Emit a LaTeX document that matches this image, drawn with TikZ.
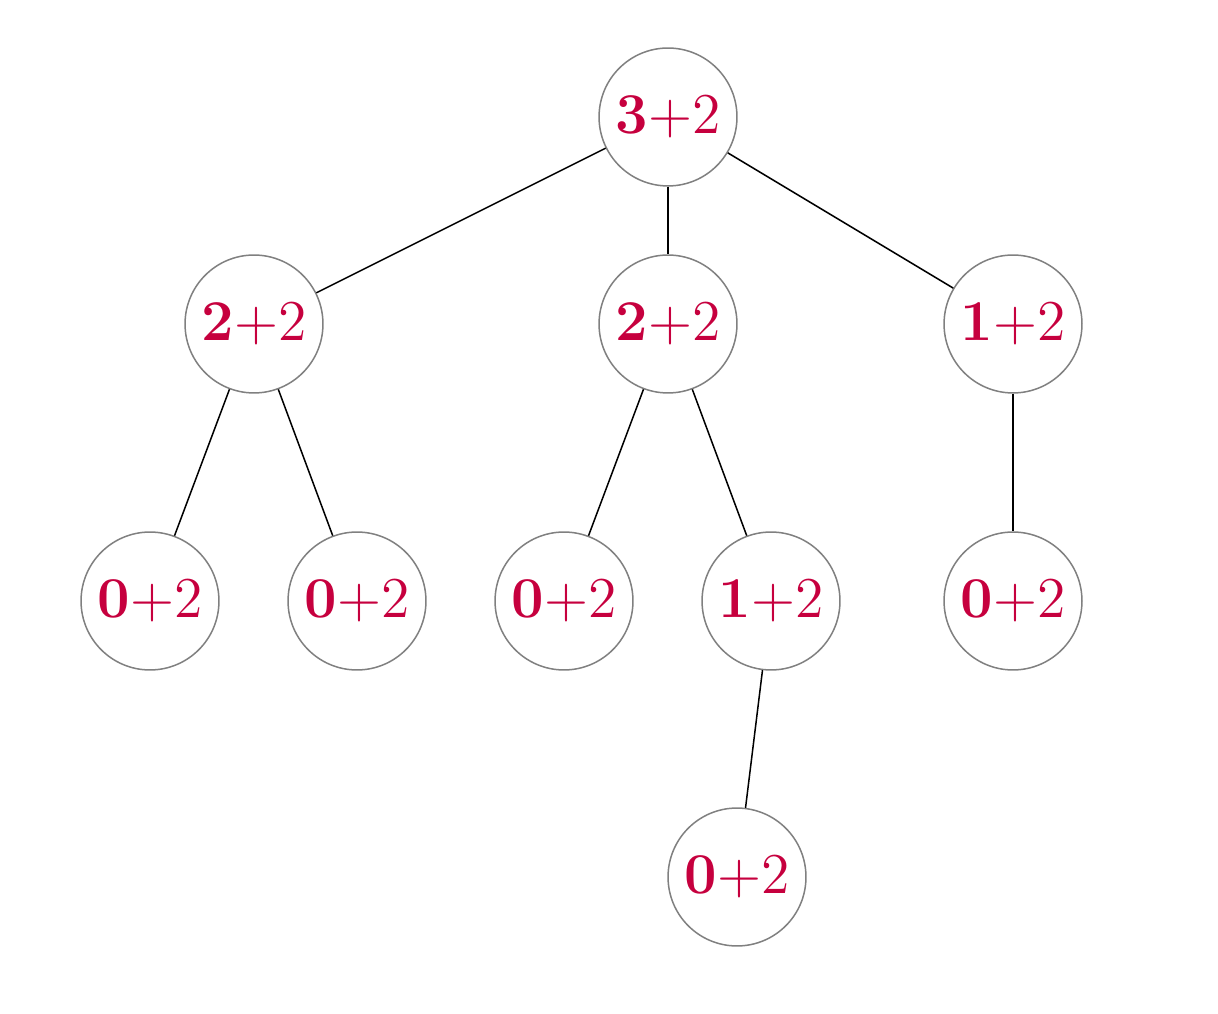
\documentclass[tikz,border=0pt]{standalone}
\definecolor{lblred}{RGB}{198,0,62}
\begin{document}
\begin{tikzpicture}[x=0.232pt,y=-0.232pt,
  tnode/.style={circle,draw=gray,line width=0.35pt,minimum size=32pt,inner sep=0pt,
    text=lblred,font=\fontsize{13.4}{16}\selectfont},
  tedge/.style={draw=black,line width=0.35pt}]
\useasboundingbox (0,0) rectangle (1218,1014);
\node[tnode] (r) at (668,117) {\textbf{3}+2};
\node[tnode] (a) at (254,324) {\textbf{2}+2};
\node[tnode] (b) at (668,324) {\textbf{2}+2};
\node[tnode] (c) at (1013,324) {\textbf{1}+2};
\node[tnode] (a1) at (150,601) {\textbf{0}+2};
\node[tnode] (a2) at (357,601) {\textbf{0}+2};
\node[tnode] (b1) at (564,601) {\textbf{0}+2};
\node[tnode] (b2) at (771,601) {\textbf{1}+2};
\node[tnode] (c1) at (1013,601) {\textbf{0}+2};
\node[tnode] (b21) at (737,877) {\textbf{0}+2};
\draw[tedge] (r) -- (a);
\draw[tedge] (r) -- (b);
\draw[tedge] (r) -- (c);
\draw[tedge] (a) -- (a1);
\draw[tedge] (a) -- (a2);
\draw[tedge] (b) -- (b1);
\draw[tedge] (b) -- (b2);
\draw[tedge] (c) -- (c1);
\draw[tedge] (b2) -- (b21);
\end{tikzpicture}
\end{document}
